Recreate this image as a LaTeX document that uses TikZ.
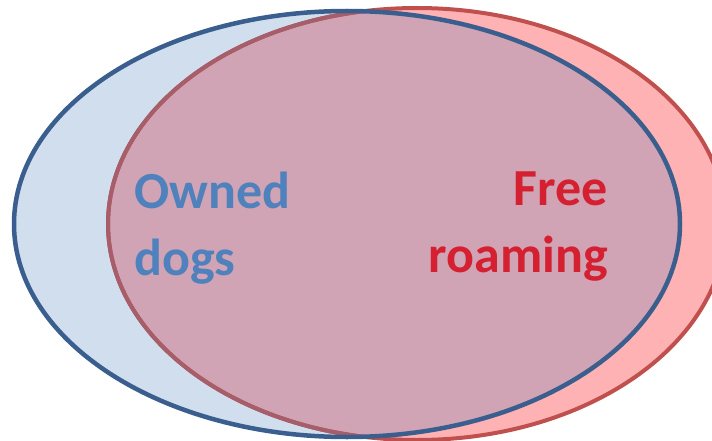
\documentclass[tikz,border=0pt]{standalone}
\usepackage{fontspec}
\setmainfont{Carlito}
\usepackage{tikz}
\definecolor{ownfill}{HTML}{D0DEED}
\definecolor{ownline}{HTML}{3A5F8E}
\definecolor{owntext}{HTML}{4F81BD}
\definecolor{roamfill}{HTML}{FFB2B4}
\definecolor{roamline}{HTML}{C0504D}
\definecolor{roamdark}{HTML}{A65E6B}
\definecolor{roamtext}{HTML}{D42030}
\definecolor{bothfill}{HTML}{D0A4B4}

\begin{document}
\begin{tikzpicture}[x=1pt,y=1pt,
	dogtext/.style={inner sep=0pt,font=\bfseries\fontsize{52}{67}\selectfont}]
	\useasboundingbox (0,0) rectangle (712,440);
	\clip (0,0) rectangle (712,440);
	\fill[ownfill] (347,216) ellipse (333 and 213);
	\fill[roamfill] (417,216) ellipse (309 and 216);
	\begin{scope}
	\clip (347,216) ellipse (333 and 213);
	\fill[bothfill] (417,216) ellipse (309 and 216);
	\end{scope}
	\draw[roamline,line width=4pt] (417,216) ellipse (309 and 216);
	\begin{scope}
	\clip (347,216) ellipse (333 and 213);
	\draw[roamdark,line width=4pt] (417,216) ellipse (309 and 216);
	\end{scope}
	\draw[ownline,line width=4.5pt] (347,216) ellipse (333 and 213);
	\node[dogtext,owntext,align=left,anchor=north west] (owned) at (134,268) {Owned\\dogs};
	\node[dogtext,roamtext,align=right,anchor=north east] (roaming) at (608,268) {Free\\roaming};
\end{tikzpicture}
\end{document}
